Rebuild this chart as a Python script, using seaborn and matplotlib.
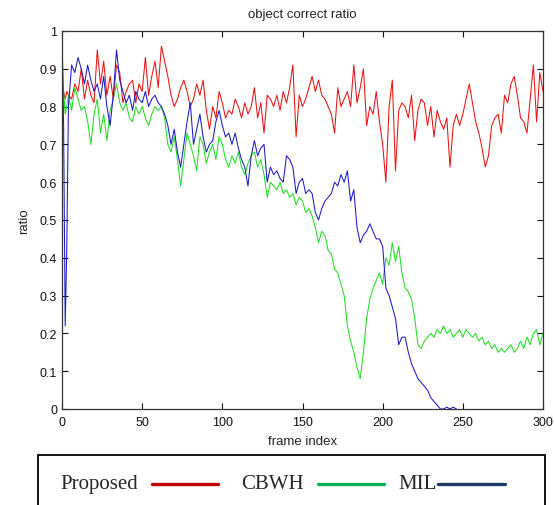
import matplotlib
matplotlib.use("Agg")
import matplotlib.pyplot as plt
from matplotlib.lines import Line2D
from matplotlib.patches import Rectangle
import numpy as np
import pandas as pd
import seaborn as sns

# frame index: every frame at the start, then every second frame
frames = [0, 1, 2, 3, 4] + list(range(6, 301, 2))

proposed = [
    0.85, 0.84, 0.82, 0.84, 0.83,
    0.82, 0.86, 0.84, 0.90, 0.82, 0.87, 0.83, 0.81, 0.95, 0.86,
    0.92, 0.83, 0.88, 0.82, 0.91, 0.89, 0.81, 0.84, 0.86, 0.87,
    0.81, 0.86, 0.84, 0.93, 0.83, 0.88, 0.92, 0.85, 0.96, 0.92,
    0.88, 0.83, 0.80, 0.82, 0.85, 0.87, 0.84, 0.80, 0.82, 0.86,
    0.83, 0.87, 0.79, 0.74, 0.80, 0.77, 0.84, 0.81, 0.77, 0.79,
    0.78, 0.82, 0.80, 0.77, 0.81, 0.78, 0.80, 0.85, 0.77, 0.81,
    0.73, 0.83, 0.82, 0.80, 0.83, 0.79, 0.84, 0.81, 0.85, 0.91,
    0.72, 0.83, 0.80, 0.82, 0.85, 0.88, 0.84, 0.87, 0.83, 0.82,
    0.80, 0.78, 0.73, 0.85, 0.80, 0.82, 0.84, 0.80, 0.91, 0.81,
    0.85, 0.90, 0.75, 0.80, 0.78, 0.84, 0.76, 0.70, 0.60, 0.80,
    0.87, 0.63, 0.79, 0.81, 0.80, 0.77, 0.83, 0.71, 0.79, 0.82,
    0.81, 0.75, 0.80, 0.72, 0.79, 0.76, 0.74, 0.77, 0.64, 0.75,
    0.78, 0.75, 0.78, 0.82, 0.86, 0.81, 0.76, 0.73, 0.69, 0.64,
    0.67, 0.75, 0.77, 0.78, 0.73, 0.83, 0.81, 0.86, 0.88, 0.83,
    0.77, 0.76, 0.73, 0.82, 0.91, 0.76, 0.89, 0.84,
]

cbwh = [
    0.96, 0.84, 0.78, 0.80, 0.83,
    0.79, 0.85, 0.82, 0.79, 0.80, 0.76, 0.70, 0.78, 0.82, 0.73,
    0.78, 0.71, 0.79, 0.82, 0.86, 0.81, 0.79, 0.81, 0.77, 0.76,
    0.80, 0.78, 0.80, 0.77, 0.75, 0.78, 0.80, 0.79, 0.80, 0.77,
    0.70, 0.68, 0.72, 0.66, 0.59, 0.66, 0.73, 0.70, 0.67, 0.63,
    0.72, 0.70, 0.65, 0.68, 0.70, 0.66, 0.72, 0.70, 0.66, 0.64,
    0.67, 0.65, 0.68, 0.64, 0.62, 0.65, 0.67, 0.68, 0.64, 0.66,
    0.62, 0.56, 0.60, 0.59, 0.58, 0.60, 0.57, 0.58, 0.56, 0.57,
    0.54, 0.56, 0.55, 0.52, 0.53, 0.51, 0.48, 0.44, 0.47, 0.46,
    0.42, 0.41, 0.37, 0.36, 0.33, 0.30, 0.22, 0.18, 0.15, 0.11,
    0.08, 0.15, 0.24, 0.29, 0.32, 0.34, 0.36, 0.33, 0.40, 0.38,
    0.44, 0.39, 0.43, 0.36, 0.32, 0.31, 0.29, 0.24, 0.17, 0.16,
    0.18, 0.19, 0.20, 0.19, 0.21, 0.20, 0.22, 0.20, 0.21, 0.19,
    0.20, 0.21, 0.19, 0.21, 0.20, 0.19, 0.20, 0.18, 0.19, 0.17,
    0.18, 0.16, 0.17, 0.15, 0.16, 0.15, 0.16, 0.17, 0.15, 0.16,
    0.18, 0.16, 0.19, 0.17, 0.20, 0.21, 0.17, 0.20,
]

mil = [
    0.99, 0.75, 0.22, 0.43, 0.80,
    0.91, 0.89, 0.93, 0.90, 0.86, 0.91, 0.87, 0.84, 0.86, 0.82,
    0.88, 0.80, 0.75, 0.83, 0.95, 0.87, 0.84, 0.81, 0.83, 0.79,
    0.84, 0.82, 0.81, 0.84, 0.80, 0.82, 0.83, 0.81, 0.80, 0.78,
    0.75, 0.70, 0.74, 0.68, 0.64, 0.70, 0.76, 0.81, 0.70, 0.74,
    0.78, 0.72, 0.68, 0.70, 0.71, 0.76, 0.79, 0.75, 0.72, 0.73,
    0.70, 0.73, 0.69, 0.66, 0.64, 0.59, 0.67, 0.71, 0.67, 0.69,
    0.70, 0.60, 0.64, 0.62, 0.63, 0.61, 0.60, 0.67, 0.66, 0.64,
    0.57, 0.60, 0.61, 0.57, 0.58, 0.57, 0.52, 0.50, 0.53, 0.55,
    0.56, 0.57, 0.60, 0.59, 0.62, 0.60, 0.63, 0.55, 0.58, 0.48,
    0.44, 0.46, 0.47, 0.49, 0.47, 0.45, 0.45, 0.43, 0.32, 0.30,
    0.27, 0.24, 0.17, 0.19, 0.19, 0.15, 0.12, 0.10, 0.08, 0.07,
    0.06, 0.05, 0.03, 0.02, 0.01, 0.00, 0.00, 0.005, 0.00, 0.005,
    0.00,
] + [np.nan] * 27

methods = ["Proposed", "CBWH", "MIL"]
line_colors = {"Proposed": "#ee1111", "CBWH": "#22dd22", "MIL": "#1a1acc"}
legend_colors = ["#c00000", "#00b050", "#1f3864"]

df = pd.concat([
    pd.DataFrame({"frame": frames, "ratio": vals, "method": name})
    for name, vals in zip(methods, [proposed, cbwh, mil])
]).dropna()

sns.set_style("ticks")
plt.rcParams["font.family"] = ["Liberation Sans", "DejaVu Sans"]

fig = plt.figure(figsize=(5.54, 5.06), dpi=100)
ax = fig.add_axes([62 / 554, 1 - 410 / 506, 481 / 554, 378 / 506])

sns.lineplot(data=df, x="frame", y="ratio", hue="method", hue_order=methods,
             palette=line_colors, estimator=None, sort=False, linewidth=0.75,
             legend=False, ax=ax)

ax.set_xlim(0, 300)
ax.set_ylim(0, 1)
ax.set_xticks(range(0, 301, 50))
yt = [i / 10 for i in range(11)]
ax.set_yticks(yt)
ax.set_yticklabels(["0", "0.1", "0.2", "0.3", "0.4", "0.5", "0.6", "0.7", "0.8", "0.9", "1"])
ax.tick_params(direction="in", length=4, width=0.8, labelsize=9, colors="#111111",
               top=True, right=True)
ax.tick_params(axis="x", pad=5)
for s in ax.spines.values():
    s.set_visible(True)
    s.set_linewidth(0.9)
    s.set_color("#333333")
ax.set_xlabel("frame index", fontsize=9.5, color="#222222", labelpad=5)
ax.set_ylabel("ratio", fontsize=9.5, color="#222222", labelpad=7)
ax.set_title("object correct ratio", fontsize=9.5, color="#222222", pad=10)

# legend box below the axes, label first then line
def fx(px):
    return px / 554

def fy(py):
    return 1 - py / 506

fig.add_artist(Rectangle((fx(38), fy(525)), fx(545) - fx(38), fy(456) - fy(525),
                         transform=fig.transFigure, fill=False,
                         edgecolor="black", linewidth=1.3))
label_x = [60, 241, 398]
line_x = [(152, 218), (318, 384), (438, 505)]
for name, tx, (l0, l1), c in zip(methods, label_x, line_x, legend_colors):
    fig.text(fx(tx), fy(489), name, family=["Liberation Serif", "DejaVu Serif"],
             fontsize=15, va="baseline", ha="left")
    fig.add_artist(Line2D([fx(l0), fx(l1)], [fy(485), fy(485)],
                          transform=fig.transFigure, color=c, linewidth=2.4))

fig.savefig("out.png", dpi=100)
